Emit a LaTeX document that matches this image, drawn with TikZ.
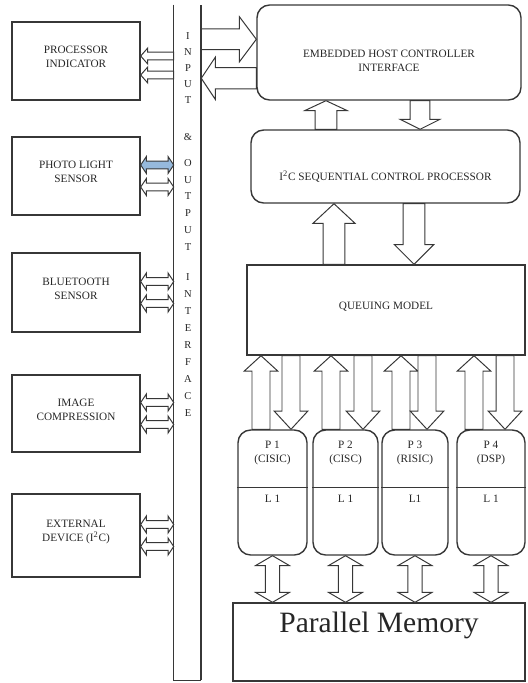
\documentclass[tikz,border=0pt]{standalone}
\usepackage{fontspec}
\setmainfont{Liberation Serif}
\usetikzlibrary{calc,fit}
\definecolor{myline}{RGB}{55,55,55}
\definecolor{myblue}{RGB}{150,185,220}

\tikzset{
  blk/.style={draw=myline, line width=1pt, inner sep=0pt},
  rblk/.style={blk, rounded corners=9pt},
  lbl/.style={text=black!85, font=\fontsize{8}{10}\selectfont, align=center},
  hollow/.style={draw=myline, line width=0.7pt, fill=white, line join=miter},
}

% block arrow: from, to, half shaft, half head, head length
\newcommand{\blockarrow}[6][]{%
  \path #2 coordinate (ba-s) #3 coordinate (ba-t) ($(ba-t)!#6!(ba-s)$) coordinate (ba-h);
  \draw[hollow,#1] ($(ba-s)!#4!90:(ba-t)$) -- ($(ba-h)!#4!90:(ba-t)$) -- ($(ba-h)!#5!90:(ba-t)$) -- (ba-t)
    -- ($(ba-h)!#5!-90:(ba-t)$) -- ($(ba-h)!#4!-90:(ba-t)$) -- ($(ba-s)!#4!-90:(ba-t)$) -- cycle;
}
% same, with a head at both ends
\newcommand{\dblarrow}[6][]{%
  \path #2 coordinate (da-s) #3 coordinate (da-t) ($(da-s)!#6!(da-t)$) coordinate (da-a) ($(da-t)!#6!(da-s)$) coordinate (da-b);
  \draw[hollow,#1] (da-s) -- ($(da-a)!#5!90:(da-t)$) -- ($(da-a)!#4!90:(da-t)$) -- ($(da-b)!#4!90:(da-t)$)
    -- ($(da-b)!#5!90:(da-t)$) -- (da-t) -- ($(da-b)!#5!-90:(da-t)$) -- ($(da-b)!#4!-90:(da-t)$)
    -- ($(da-a)!#4!-90:(da-t)$) -- ($(da-a)!#5!-90:(da-t)$) -- cycle;
}

\begin{document}
\begin{tikzpicture}[x=0.025cm,y=-0.025cm]
\useasboundingbox (0,0) rectangle (527,683);

% devices on the left
\node[blk, lbl, fit={(12,22) (140,100)}] (pind) {PROCESSOR\\INDICATOR};
\node[blk, lbl, fit={(12,137) (140,215)}] (photo) {PHOTO LIGHT\\SENSOR};
\node[blk, lbl, fit={(12,253) (140,332)}] (blue) {BLUETOOTH\\SENSOR};
\node[blk, lbl, fit={(12,375) (140,452)}] (img) {IMAGE\\COMPRESSION};
\node[blk, lbl, fit={(12,494) (140,577)}] (ext) {EXTERNAL\\DEVICE (I\textsuperscript{2}C)};

% input & output interface bar
\node[inner sep=0pt, fit={(174,5) (201,680)}] (io) {};
\draw[myline, line width=1pt] (io.north west) -- (io.south west) -- (io.south east);
\draw[myline, line width=1.6pt] (io.south east) -- (io.north east);
\foreach \ch/\y [count=\i] in {I/36, N/52, P/68, U/84, T/100, \&/137, O/163, U/180, T/196, P/213, U/230, T/247,
    I/277, N/294, T/311, E/328, R/345, F/362, A/379, C/396, E/413}
  \node[lbl, font=\fontsize{7.5}{9}\selectfont] (ch\i) at (188,\y) {\ch};

\blockarrow{($(io.west |- pind.east)+(0,-5)$)}{($(pind.east)+(0,-5)$)}{2.8pt}{5.7pt}{5pt}
\blockarrow{($(io.west |- pind.east)+(0,14)$)}{($(pind.east)+(0,14)$)}{2.8pt}{5.7pt}{5pt}
\dblarrow[fill=myblue]{($(photo.east)+(0,-11)$)}{($(io.west |- photo.east)+(0,-11)$)}{2.8pt}{6pt}{4pt}
\dblarrow{($(photo.east)+(0,11)$)}{($(io.west |- photo.east)+(0,11)$)}{2.8pt}{6pt}{4pt}
\foreach \b in {blue, img, ext}{
  \dblarrow{($(\b.east)+(0,-11)$)}{($(io.west |- \b.east)+(0,-11)$)}{2.8pt}{6pt}{4pt}
  \dblarrow{($(\b.east)+(0,11)$)}{($(io.west |- \b.east)+(0,11)$)}{2.8pt}{6pt}{4pt}
}

% controller side
\node[rblk, fit={(257,5) (521,100)}] (ehci) {};
\node[lbl] (ehci-t) at ($(ehci.center)+(0,8)$) {EMBEDDED HOST CONTROLLER\\INTERFACE};
\node[rblk, fit={(251,130) (520,203)}] (i2c) {};
\node[lbl] (i2c-t) at ($(i2c.center)+(0,10)$) {I\textsuperscript{2}C SEQUENTIAL CONTROL PROCESSOR};
\node[blk, lbl, fit={(247,265) (525,355)}] (qm) {QUEUING MODEL};
\node[blk, fit={(233,603) (525,681)}] (pm) {};
\node[text=black!85, font=\fontsize{21}{24}\selectfont] (pm-t) at ($(pm.north)+(0,23)$) {Parallel Memory};

\blockarrow{($(ehci.north west -| io.east)+(0,35)$)}{($(ehci.north west)+(0,35)$)}{7.4pt}{16pt}{12pt}
\blockarrow{($(ehci.north west)+(0,74)$)}{($(ehci.north west -| io.east)+(0,74)$)}{7.6pt}{15pt}{10pt}

\blockarrow{(i2c.north -| 326,0)}{(ehci.south -| 326,0)}{7.8pt}{15pt}{7pt}
\blockarrow{(ehci.south -| 420,0)}{(i2c.north -| 420,0)}{7pt}{14pt}{7pt}
\blockarrow{(qm.north -| 334,0)}{(i2c.south -| 334,0)}{7.8pt}{15pt}{14pt}
\blockarrow{(i2c.south -| 414,0)}{(qm.north -| 414,0)}{7.8pt}{14pt}{14pt}

% processors with L1 cache
\foreach \n/\xa/\xb/\up/\dn/\kind/\lev in {1/238/307/261/291/CISIC/L 1, 2/313/378/331/363/CISC/L 1,
    3/382/448/401/427/RISIC/L1, 4/457/525/474/505/DSP/L 1}{
  \node[rblk, fit={(\xa,430) (\xb,555)}] (p\n) {};
  \draw[myline, line width=0.8pt] ($(p\n.north west)+(0,58)$) -- ($(p\n.north east)+(0,58)$);
  \node[lbl] (p\n-t) at ($(p\n.north)+(0,24)$) {P \n\\(\kind)};
  \node[lbl] (l\n) at ($(p\n.north)+(0,69)$) {\lev};
  \blockarrow{(p\n.north -| \up,0)}{(qm.south -| \up,0)}{6.4pt}{12pt}{11pt}
  \blockarrow{(qm.south -| \dn,0)}{(p\n.north -| \dn,0)}{6.4pt}{12pt}{13pt}
  \dblarrow{(p\n.south)}{(pm.north -| p\n.south)}{5pt}{12pt}{7pt}
}

\end{tikzpicture}
\end{document}
